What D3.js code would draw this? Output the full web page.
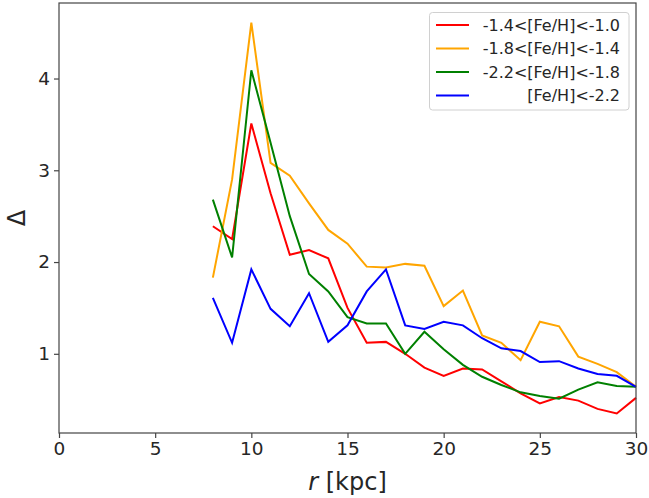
<!DOCTYPE html>
<html><head><meta charset="utf-8">
<script src="https://cdn.jsdelivr.net/npm/d3@7"></script>
<style>
html,body{margin:0;padding:0;background:#fff;}
text{font-family:"DejaVu Sans",sans-serif;fill:#262626;}
</style></head>
<body>
<svg id="chart" width="649" height="498"></svg>
<script>
const radii = [8,9,10,11,12,13,14,15,16,17,18,19,20,21,22,23,24,25,26,27,28,29,30];
const seriesRed    = [2.39,2.25,3.51,2.75,2.08,2.13,2.04,1.50,1.12,1.13,1.00,0.85,0.76,0.84,0.83,0.70,0.57,0.46,0.53,0.49,0.40,0.35,0.52];
const seriesOrange = [1.83,2.90,4.61,3.08,2.94,2.64,2.35,2.20,1.95,1.94,1.98,1.96,1.52,1.69,1.20,1.12,0.93,1.35,1.30,0.97,0.89,0.80,0.64];
const seriesGreen  = [2.68,2.05,4.09,3.30,2.50,1.87,1.68,1.40,1.33,1.33,1.00,1.24,1.05,0.88,0.75,0.66,0.58,0.54,0.51,0.61,0.69,0.65,0.64];
const seriesBlue   = [1.61,1.12,1.92,1.49,1.30,1.66,1.13,1.31,1.68,1.92,1.31,1.27,1.35,1.31,1.17,1.06,1.03,0.91,0.92,0.84,0.78,0.76,0.64];
const seriesLabels = ["-1.4<[Fe/H]<-1.0","-1.8<[Fe/H]<-1.4","-2.2<[Fe/H]<-1.8","[Fe/H]<-2.2"];
const seriesColors = ["red","orange","green","blue"];
const xTicks = [0,5,10,15,20,25,30];
const yTicks = [1,2,3,4];
const xDomain = [0,30];

const series = [seriesRed,seriesOrange,seriesGreen,seriesBlue];
const svg = d3.select("#chart");
const margin = {left:59, right:13, top:3, bottom:65};
const W = 649, H = 498;

const allVals = series.flat();
const [vmin,vmax] = d3.extent(allVals);
const pad = (vmax-vmin)*0.05;
const x = d3.scaleLinear().domain(xDomain).range([margin.left, W-margin.right]);
const y = d3.scaleLinear().domain([vmin-pad, vmax+pad]).range([H-margin.bottom, margin.top]);

const axisColor = "#444";

// lines
const line = d3.line().x((d,i)=>x(radii[i])).y(d=>y(d));
series.forEach((s,k)=>{
  svg.append("path").datum(s).attr("d",line)
    .attr("fill","none").attr("stroke",seriesColors[k])
    .attr("stroke-width",2).attr("stroke-linejoin","miter");
});

// axes
const xAxis = d3.axisBottom(x).tickValues(xTicks).tickSize(5).tickPadding(4).tickFormat(d3.format("d"));
const gx = svg.append("g").attr("transform",`translate(0,${H-margin.bottom})`).call(xAxis);
const yAxis = d3.axisLeft(y).tickValues(yTicks).tickSize(5).tickPadding(4).tickFormat(d3.format("d"));
const gy = svg.append("g").attr("transform",`translate(${margin.left},0)`).call(yAxis);
[gx,gy].forEach(g=>{
  g.select(".domain").remove();
  g.selectAll(".tick line").attr("stroke",axisColor).attr("stroke-width",1.2);
  g.selectAll(".tick text").attr("font-size",18.5).attr("font-family","DejaVu Sans").attr("fill","#262626");
});

// frame
svg.append("rect").attr("x",margin.left).attr("y",margin.top)
  .attr("width",W-margin.left-margin.right).attr("height",H-margin.top-margin.bottom)
  .attr("fill","none").attr("stroke",axisColor).attr("stroke-width",1.2);

// axis labels
const xl = svg.append("text").attr("x",(margin.left+W-margin.right)/2).attr("y",490)
  .attr("text-anchor","middle").attr("font-size",24);
xl.append("tspan").attr("font-style","italic").text("r");
xl.append("tspan").text(" [kpc]");
svg.append("text").attr("transform",`translate(25,${(margin.top+H-margin.bottom)/2}) rotate(-90)`)
  .attr("text-anchor","middle").attr("font-size",24).text("Δ");

// legend
const lg = svg.append("g");
lg.append("rect").attr("x",429.5).attr("y",12.5).attr("width",199.5).attr("height",97.5)
  .attr("rx",3).attr("fill","#fff").attr("fill-opacity",0.8).attr("stroke","#d0d0d0").attr("stroke-width",1);
seriesLabels.forEach((lab,k)=>{
  const yy = 25 + k*23.5;
  lg.append("line").attr("x1",436).attr("x2",469).attr("y1",yy).attr("y2",yy)
    .attr("stroke",seriesColors[k]).attr("stroke-width",2);
  lg.append("text").attr("x",620).attr("y",yy+5.5).attr("text-anchor","end")
    .attr("font-size",16).text(lab);
});
</script>
</body></html>
